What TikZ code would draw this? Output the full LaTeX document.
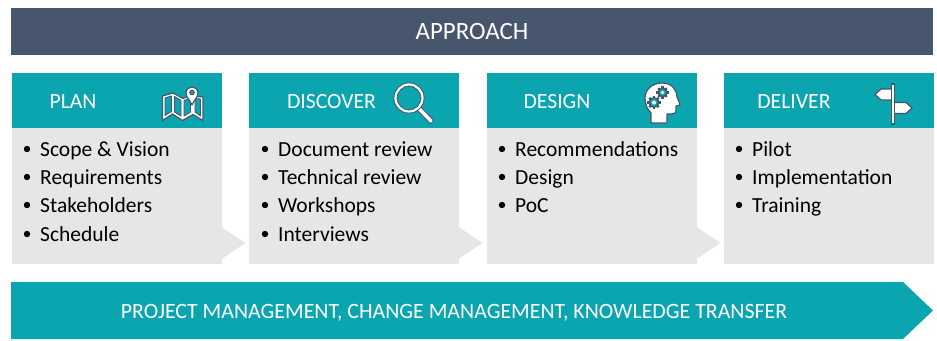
\documentclass[tikz,border=0pt]{standalone}
\usepackage{fontspec}
\setmainfont{Carlito}
\definecolor{teal1}{HTML}{0AA5AF}
\definecolor{slate1}{HTML}{47566D}
\definecolor{grey1}{HTML}{E6E6E6}
\definecolor{ink1}{HTML}{44546A}
\newcommand{\fs}[1]{\fontsize{#1}{#1}\selectfont}
\tikzset{
  x=1pt,y=-1pt,
  headlabel/.style={text=white,font=\fs{21.7},anchor=base,inner sep=0pt},
  bullettext/.style={text=black,font=\fs{21.5},anchor=base west,inner sep=0pt},
  bulletdot/.style={circle,fill=black,inner sep=0pt,minimum size=6.4pt},
  icon/.style={draw=ink1,fill=white,line width=1.2pt,line join=round},
  inset/.style={draw=ink1,fill=teal1,line width=0.9pt,line join=round},
}
\newcommand{\gearicon}[3]{%
  \foreach \a in {0,45,...,315}{\draw[ink1,line width=2.2pt] (#1,#2) -- ++(\a:#3+1.9);}
  \draw[ink1,fill=teal1,line width=1.5pt] (#1,#2) circle (#3);
  \fill[white] (#1,#2) circle (#3*0.42);
}
\begin{document}
\begin{tikzpicture}
\useasboundingbox (0,0) rectangle (937,340);
% top banner
\fill[slate1] (11,8) rectangle (933,55);
\node[text=white,font=\fs{24.9},anchor=base,inner sep=0pt] (title) at (472,39) {APPROACH};
% panels
\foreach \l in {12,249,487,724}{
  \fill[teal1] (\l,73) rectangle ++(209.5,55);
  \fill[grey1] (\l,128) rectangle ++(209.5,136);
}
\foreach \l in {12,249,487}{
  \fill[grey1] (\l+209.5,227) -- (\l+233.5,243) -- (\l+209.5,259) -- cycle;
}
% headers
\node[headlabel] (plan) at (73,108) {PLAN};
\node[headlabel] (discover) at (331.5,108) {DISCOVER};
\node[headlabel] (design) at (557,108) {DESIGN};
\node[headlabel] (deliver) at (794,108) {DELIVER};
% lists
\node[bulletdot] (d11) at (27,149) {};
\node[bulletdot] (d12) at (27,177) {};
\node[bulletdot] (d13) at (27,205) {};
\node[bulletdot] (d14) at (27,234) {};
\node[bullettext] (t11) at (40,156) {Scope \& Vision};
\node[bullettext] (t12) at (40,184) {Requirements};
\node[bullettext] (t13) at (40,212) {Stakeholders};
\node[bullettext] (t14) at (40,241) {Schedule};
\node[bulletdot] (d21) at (265,149) {};
\node[bulletdot] (d22) at (265,177) {};
\node[bulletdot] (d23) at (265,205) {};
\node[bulletdot] (d24) at (265,234) {};
\node[bullettext] (t21) at (278,156) {Document review};
\node[bullettext] (t22) at (278,184) {Technical review};
\node[bullettext] (t23) at (278,212) {Workshops};
\node[bullettext] (t24) at (278,241) {Interviews};
\node[bulletdot] (d31) at (502,149) {};
\node[bulletdot] (d32) at (502,177) {};
\node[bulletdot] (d33) at (502,205) {};
\node[bullettext] (t31) at (515,156) {Recommendations};
\node[bullettext] (t32) at (515,184) {Design};
\node[bullettext] (t33) at (515,212) {PoC};
\node[bulletdot] (d41) at (739,149) {};
\node[bulletdot] (d42) at (739,177) {};
\node[bulletdot] (d43) at (739,205) {};
\node[bullettext] (t41) at (752,156) {Pilot};
\node[bullettext] (t42) at (752,184) {Implementation};
\node[bullettext] (t43) at (752,212) {Training};
% bottom arrow
\fill[teal1] (11,282) -- (903,282) -- (933,310.5) -- (903,339) -- (11,339) -- cycle;
\node[text=white,font=\fs{21.85},anchor=base,inner sep=0pt] (pm) at (454,318) {PROJECT MANAGEMENT, CHANGE MANAGEMENT, KNOWLEDGE TRANSFER};
% map icon
\draw[icon] (162.5,96) -- (173,93) -- (183,98.5) -- (188,96.5) -- (197,96.5) -- (203,97) -- (203,120.5) -- (193,114.5) -- (182.5,120.5) -- (172.5,114) -- (162.5,120.5) -- cycle;
\draw[inset] (165,98) -- (171.5,96) -- (171.5,111.5) -- (165,115.5) -- cycle;
\draw[inset] (174.5,96.5) -- (181,100.5) -- (181,116) -- (174.5,112) -- cycle;
\draw[inset] (184,100.5) -- (190.5,98) -- (190.5,112) -- (184,116) -- cycle;
\draw[inset] (195,98.5) -- (200.5,99) -- (200.5,116) -- (195,112) -- cycle;
\draw[icon] (192,105) .. controls (190,100) and (186,97.5) .. (186,93) .. controls (186,85) and (198,85) .. (198,93) .. controls (198,97.5) and (194,100) .. cycle;
\draw[ink1,fill=teal1,line width=0.9pt] (192,92.5) circle (2.3);
% magnifier
\draw[ink1,line width=5.6pt,line cap=round] (418.5,108) -- (431,121);
\draw[white,line width=3.6pt,line cap=round] (419,108.5) -- (431,121);
\draw[ink1,line width=4pt] (409,98) circle (13.5);
\draw[white,line width=2.2pt] (409,98) circle (13.5);
% head icon
\draw[icon] (651,123) -- (651,113) .. controls (647,109) and (645,104) .. (645,98) .. controls (645,89) and (653,83) .. (662,83) .. controls (672,83) and (677,90) .. (677,97) .. controls (678,100) and (680,103) .. (680,105) -- (676,106) -- (676,111) .. controls (676,114) and (673,114) .. (667,114) -- (667,123) -- cycle;
\gearicon{662.5}{92.5}{4.2}
\gearicon{654}{102.5}{4.8}
% signpost
\draw[icon] (893,89) -- (881,89) -- (875,94.5) -- (881,100) -- (893,100) -- cycle;
\draw[icon] (893,102.5) -- (906,102.5) -- (912,108) -- (906,113.5) -- (893,113.5) -- cycle;
\draw[icon] (891.5,84) rectangle (894.5,124);
\end{tikzpicture}
\end{document}
